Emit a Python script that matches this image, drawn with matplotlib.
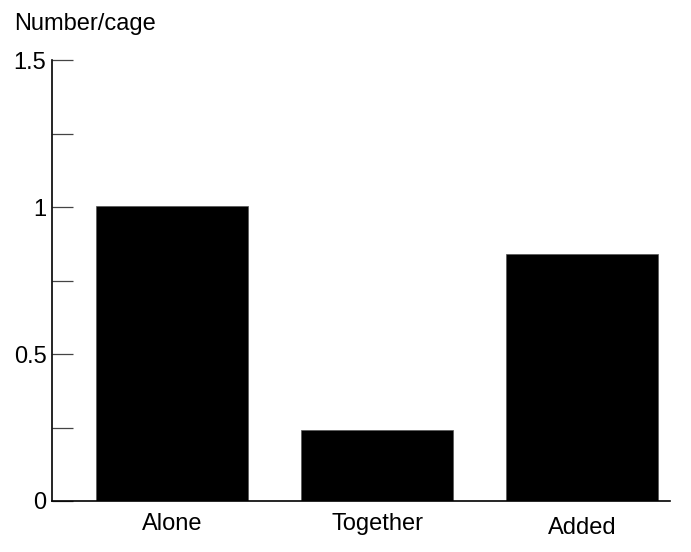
import matplotlib
matplotlib.use("Agg")
import matplotlib.pyplot as plt
import matplotlib.transforms as mtransforms

# chart values
categories = ["Alone", "Together", "Added"]
values = [1.005, 0.24, 0.842]
major_ticks = [0, 0.5, 1, 1.5]
major_labels = ["0", "0.5", "1", "1.5"]
minor_ticks = [0.25, 0.75, 1.25]

plt.rcParams["font.family"] = ["Liberation Sans", "DejaVu Sans"]
fs = 17

fig = plt.figure(figsize=(6.91, 5.52), dpi=100)
ax = fig.add_axes([0.0753, 0.0924, 0.8947, 0.7986])

x = list(range(len(categories)))
ax.bar(x, values, width=0.74, color="black", edgecolor="#555555", linewidth=0.5)

ax.set_xlim(-0.585, 2.43)
ax.set_ylim(0, 1.5)

for side in ["top", "right"]:
    ax.spines[side].set_visible(False)
ax.spines["left"].set_linewidth(1.2)
ax.spines["bottom"].set_linewidth(1.2)

ax.set_yticks(major_ticks)
ax.set_yticklabels(major_labels, fontsize=fs)
ax.set_yticks(minor_ticks, minor=True)
ax.tick_params(axis="y", which="both", direction="in", length=15,
               width=0.9, color="#444444", pad=4)

ax.set_xticks([])
label_offsets = [0, 0, -3]
for xi, name, off in zip(x, categories, label_offsets):
    tr = mtransforms.offset_copy(ax.get_xaxis_transform(), fig=fig, x=0, y=off, units="points")
    ax.text(xi, -0.027, name, transform=tr, ha="center", va="top", fontsize=fs)

fig.text(0.0203, 0.956, "Number/cage", ha="left", va="center", fontsize=fs)

fig.savefig("out.png", dpi=100)
